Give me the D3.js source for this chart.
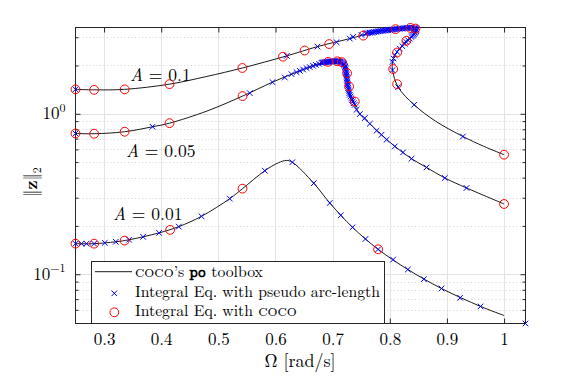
<!DOCTYPE html>
<html><head><meta charset="utf-8">
<script src="https://cdn.jsdelivr.net/npm/d3@7"></script>
<style>
body{margin:0;background:#fff}
svg{display:block}
</style>
</head><body>
<svg id="c" width="581" height="376"></svg>
<script>
// ---------- axis limits & ticks ----------
const xLimits = [0.25, 1.0375];
const yLimits = [0.0493, 3.45];
const xTicks = [0.3, 0.4, 0.5, 0.6, 0.7, 0.8, 0.9, 1.0];
const xTickLabels = ["0.3", "0.4", "0.5", "0.6", "0.7", "0.8", "0.9", "1"];
const yMajorTicks = [0.1, 1];
const yTickExponents = ["\u22121", "0"];
const yMinorTicks = [0.06, 0.07, 0.08, 0.09, 0.2, 0.3, 0.4, 0.5, 0.6, 0.7, 0.8, 0.9, 2, 3];

// ---------- coco's po toolbox (solid lines) ----------
const lineOmegaA01 = [0.25,0.2826,0.336,0.4145,0.48,0.542,0.6198,0.6735,0.730,0.7738,0.8106,0.8368,0.8447,0.8465,0.8412,0.829,0.8175,0.8088,0.8048,0.8048,0.8146,0.8426,0.88,0.928,0.964,1.0];
const lineAmpA01   = [1.42,1.41,1.42,1.53,1.71,1.93,2.296,2.623,2.942,3.24,3.37,3.43,3.41,3.30,3.10,2.86,2.55,2.32,2.10,1.87,1.466,1.138,0.90,0.722,0.628,0.556];

const lineOmegaA005 = [0.25,0.2826,0.336,0.3848,0.4145,0.48,0.5423,0.5948,0.6368,0.6705,0.6915,0.7055,0.7125,0.7187,0.7218,0.7236,0.7255,0.7287,0.7353,0.7476,0.7651,0.7855,0.8088,0.838,0.8643,0.8963,0.9343,1.0];
const lineAmpA005   = [0.754,0.751,0.773,0.83,0.874,1.04,1.289,1.575,1.817,2.018,2.107,2.124,2.114,2.062,1.961,1.813,1.593,1.380,1.193,0.996,0.867,0.740,0.626,0.525,0.463,0.398,0.345,0.274];

const lineOmegaA001 = [0.25,0.2826,0.3205,0.3438,0.3963,0.4308,0.4705,0.52,0.5423,0.5813,0.605,0.619,0.6294,0.667,0.695,0.7348,0.7796,0.8316,0.8905,0.9588,1.0];
const lineAmpA001   = [0.155,0.155,0.1593,0.164,0.181,0.198,0.2296,0.296,0.3415,0.4418,0.495,0.512,0.499,0.369,0.278,0.196,0.143,0.107,0.0815,0.063,0.0553];

// ---------- Integral Eq. with pseudo arc-length (blue crosses) ----------
const crossOmegaA01 = [0.25,0.6198,0.6735,0.7068,0.730,0.7358,0.7505,
  0.758,0.760,0.7625,0.765,0.7675,0.770,0.7725,0.775,0.7775,0.780,0.7825,0.785,0.7875,0.790,0.7925,0.795,0.7975,0.800,
  0.8025,0.805,0.8075,0.810,0.8125,0.815,0.8175,0.820,0.8225,0.825,0.8275,0.830,0.8325,0.835,0.8375,0.840,0.842,0.844,
  0.8455,0.8463,0.8466,0.8462,0.845,0.8438,0.8425,0.8412,0.8396,0.838,0.835,0.832,0.829,0.8263,0.822,0.8175,0.813,0.8088,
  0.8065,0.8048,0.8048,0.8146,0.8426,0.928];
const crossAmpA01   = [1.42,2.296,2.623,2.794,2.942,3.015,3.10,
  3.17,3.18,3.19,3.20,3.21,3.22,3.23,3.245,3.255,3.265,3.275,3.285,3.29,3.30,3.31,3.32,3.325,3.33,
  3.34,3.35,3.36,3.37,3.375,3.385,3.39,3.40,3.405,3.415,3.42,3.425,3.43,3.435,3.435,3.435,3.43,3.42,
  3.40,3.37,3.33,3.28,3.23,3.19,3.145,3.10,3.055,3.01,2.94,2.87,2.80,2.74,2.64,2.55,2.43,2.32,
  2.21,2.105,1.872,1.466,1.138,0.722];

const crossOmegaA005 = [0.25,0.3848,0.555,0.5948,0.6163,0.628,0.6368,0.6426,0.6483,0.6543,0.66,0.6658,0.6705,0.6763,
  0.6805,0.682,0.6835,0.685,0.6865,0.688,0.6895,0.691,0.6925,0.694,0.6955,0.697,0.6985,0.700,0.7015,0.703,0.7045,0.706,
  0.7075,0.709,0.7105,0.712,0.7135,0.715,0.7163,0.7175,0.7187,0.7197,0.7204,0.7212,0.7218,0.7223,0.7227,0.7232,0.7236,
  0.724,0.7243,0.7246,0.7248,0.7252,0.7255,0.7258,0.7262,0.7266,0.7271,0.7279,0.7287,0.7293,0.730,0.7313,0.7327,0.734,
  0.7353,0.737,0.7388,0.7418,0.7476,0.7563,0.7651,0.7768,0.7855,0.7943,0.8088,0.8233,0.838,0.8643,0.8963,0.9343];
const crossAmpA005   = [0.754,0.830,1.345,1.575,1.683,1.766,1.817,1.853,1.888,1.926,1.954,1.990,2.018,2.047,
  2.077,2.083,2.088,2.093,2.097,2.101,2.104,2.107,2.110,2.112,2.115,2.117,2.120,2.122,2.123,2.124,2.125,2.125,
  2.125,2.124,2.122,2.117,2.11,2.10,2.09,2.075,2.06,2.04,2.02,1.99,1.96,1.93,1.89,1.85,1.81,
  1.77,1.737,1.70,1.663,1.63,1.593,1.56,1.526,1.49,1.451,1.415,1.38,1.345,1.313,1.28,1.249,1.22,
  1.193,1.165,1.138,1.059,0.996,0.940,0.867,0.784,0.740,0.689,0.626,0.575,0.525,0.463,0.398,0.345];

const crossOmegaA001 = [0.25,0.2605,0.2693,0.2826,0.3013,0.3205,0.3438,0.3683,0.3963,0.4308,0.4705,0.52,0.5813,0.6294,0.667,0.695,0.7143,0.7348,0.7575,0.7796,0.8058,0.8316,0.8596,0.8905,0.9231,0.9588,1.0375];
const crossAmpA001   = [0.155,0.155,0.155,0.155,0.1568,0.1593,0.164,0.171,0.181,0.198,0.2296,0.296,0.4418,0.499,0.369,0.278,0.233,0.196,0.166,0.143,0.1234,0.107,0.0931,0.0815,0.0713,0.063,0.0493];

// ---------- Integral Eq. with coco (red circles) ----------
const circleOmegaA01 = [0.25,0.2826,0.336,0.4145,0.542,0.613,0.651,0.694,0.7536,0.81,0.836,0.845,0.829,0.8128,0.806,0.8128,1.0];
const circleAmpA01   = [1.42,1.41,1.42,1.53,1.93,2.27,2.48,2.72,3.07,3.37,3.43,3.40,2.85,2.41,1.90,1.53,0.556];

const circleOmegaA005 = [0.25,0.2826,0.336,0.4145,0.5423,0.692,0.708,0.716,0.7253,0.7288,0.7388,1.0];
const circleAmpA005   = [0.754,0.751,0.773,0.874,1.289,2.107,2.124,2.099,1.791,1.479,1.193,0.274];

const circleOmegaA001 = [0.25,0.2826,0.336,0.4156,0.5423,0.7796];
const circleAmpA001   = [0.155,0.155,0.162,0.189,0.3415,0.143];

const curveLabels = ["0.1", "0.05", "0.01"];
const legendLabels = ["Integral Eq. with pseudo arc-length", "Integral Eq. with "];

// ---------- fonts ----------
const ctx = document.createElement("canvas").getContext("2d");
function hasFont(name) {
  const s = "coco po Integral 0123";
  return ["monospace", "serif"].some(fb => {
    ctx.font = `20px ${fb}`; const a = ctx.measureText(s).width;
    ctx.font = `20px "${name}", ${fb}`; const b = ctx.measureText(s).width;
    return Math.abs(a - b) > 0.5;
  });
}
const SERIF = '"Latin Modern Roman","CMU Serif","Liberation Serif",serif';
const MONO = hasFont("Latin Modern Mono") ? '"Latin Modern Mono","Liberation Mono",monospace' : '"Liberation Mono","DejaVu Sans Mono",monospace';
const hasCaps = hasFont("Latin Modern Roman Caps");

// ---------- drawing ----------
const svg = d3.select("#c");
const L = 75.5, R = 525.5, T = 27.5, B = 323.5;
const x = d3.scaleLinear().domain(xLimits).range([L, R]);
const y = d3.scaleLog().domain(yLimits).range([B, T]);
const zip = (a, b) => a.map((v, i) => [v, b[i]]);

// grid
const g = svg.append("g");
g.selectAll(".gx").data(xTicks).join("line")
  .attr("x1", d => Math.round(x(d)) + 0.5).attr("x2", d => Math.round(x(d)) + 0.5)
  .attr("y1", T).attr("y2", B).attr("stroke", "#e3e3e3").attr("stroke-width", 1);
g.selectAll(".gym").data(yMinorTicks).join("line")
  .attr("x1", L).attr("x2", R)
  .attr("y1", d => Math.round(y(d)) + 0.5).attr("y2", d => Math.round(y(d)) + 0.5)
  .attr("stroke", "#d4d4d4").attr("stroke-width", 1).attr("stroke-dasharray", "1,2.5");
g.selectAll(".gy").data(yMajorTicks).join("line")
  .attr("x1", L).attr("x2", R)
  .attr("y1", d => Math.round(y(d)) + 0.5).attr("y2", d => Math.round(y(d)) + 0.5)
  .attr("stroke", "#e3e3e3").attr("stroke-width", 1);

// axes (ticks inward, MATLAB style)
const axCol = "#262626";
const xb = svg.append("g").attr("transform", `translate(0,${B})`)
  .call(d3.axisBottom(x).tickValues(xTicks).tickFormat((d, i) => xTickLabels[i]).tickSizeInner(-5).tickSizeOuter(0).tickPadding(9));
const xt = svg.append("g").attr("transform", `translate(0,${T})`)
  .call(d3.axisTop(x).tickValues(xTicks).tickFormat("").tickSizeInner(-5).tickSizeOuter(0));
const yl = svg.append("g").attr("transform", `translate(${L},0)`)
  .call(d3.axisLeft(y).tickValues(yMajorTicks).tickFormat("").tickSizeInner(-5).tickSizeOuter(0));
const ylm = svg.append("g").attr("transform", `translate(${L},0)`)
  .call(d3.axisLeft(y).tickValues(yMinorTicks).tickFormat("").tickSizeInner(-3).tickSizeOuter(0));
const yr = svg.append("g").attr("transform", `translate(${R},0)`)
  .call(d3.axisRight(y).tickValues(yMajorTicks).tickFormat("").tickSizeInner(-5).tickSizeOuter(0));
const yrm = svg.append("g").attr("transform", `translate(${R},0)`)
  .call(d3.axisRight(y).tickValues(yMinorTicks).tickFormat("").tickSizeInner(-3).tickSizeOuter(0));
[xb, xt, yl, ylm, yr, yrm].forEach(a => {
  a.select(".domain").remove();
  a.attr("font-family", null).attr("font-size", null);
  a.selectAll("line").attr("stroke", axCol);
});
xb.selectAll("text").style("font-family", SERIF).style("font-size", "17px").attr("fill", "#000");

// y tick labels 10^k
yMajorTicks.forEach((v, i) => {
  const t = svg.append("text").attr("x", 65.5).attr("y", y(v) + 5.5)
    .attr("text-anchor", "end").style("font-size", "17px").style("font-family", SERIF);
  t.append("tspan").text("10");
  t.append("tspan").attr("dy", -7.5).style("font-size", "12px").text(yTickExponents[i]);
});

// box
svg.append("rect").attr("x", L).attr("y", T).attr("width", R - L).attr("height", B - T)
  .attr("fill", "none").attr("stroke", axCol).attr("stroke-width", 1);

// lines
const lineGen = d3.line().x(d => x(d[0])).y(d => y(d[1])).curve(d3.curveCatmullRom.alpha(0.5));
[[lineOmegaA01, lineAmpA01], [lineOmegaA005, lineAmpA005], [lineOmegaA001, lineAmpA001]].forEach(([o, a]) => {
  svg.append("path").attr("d", lineGen(zip(o, a))).attr("fill", "none")
    .attr("stroke", "#000").attr("stroke-width", 0.9);
});

// crosses
const cs = 2.8;
const crossPath = (px, py) => `M${px - cs},${py - cs}L${px + cs},${py + cs}M${px - cs},${py + cs}L${px + cs},${py - cs}`;
[[crossOmegaA01, crossAmpA01], [crossOmegaA005, crossAmpA005], [crossOmegaA001, crossAmpA001]].forEach(([o, a]) => {
  svg.append("g").selectAll("path").data(zip(o, a)).join("path")
    .attr("d", d => crossPath(x(d[0]), y(d[1])))
    .attr("stroke", "#0000ff").attr("stroke-width", 1).attr("fill", "none");
});

// circles
[[circleOmegaA01, circleAmpA01], [circleOmegaA005, circleAmpA005], [circleOmegaA001, circleAmpA001]].forEach(([o, a]) => {
  svg.append("g").selectAll("circle").data(zip(o, a)).join("circle")
    .attr("cx", d => x(d[0])).attr("cy", d => y(d[1])).attr("r", 4.4)
    .attr("fill", "none").attr("stroke", "#ff0000").attr("stroke-width", 1);
});

// curve labels
const labelPos = [[130, 81], [126, 157], [113, 219.5]];
curveLabels.forEach((s, i) => {
  const t = svg.append("text").attr("x", labelPos[i][0]).attr("y", labelPos[i][1])
    .style("font-size", "17.5px").style("font-family", SERIF);
  t.append("tspan").style("font-style", "italic").text("A");
  t.append("tspan").text(" = " + s);
});

// axis labels
const xl = svg.append("text").attr("x", 300).attr("y", 367).attr("text-anchor", "middle")
  .style("font-size", "18px").style("font-family", SERIF);
xl.append("tspan").text("\u03A9 [rad/s]");
const ylab = svg.append("text").attr("transform", "translate(37,182) rotate(-90)")
  .attr("text-anchor", "middle").style("font-size", "18px").style("font-family", SERIF);
ylab.append("tspan").text("\u2016");
ylab.append("tspan").style("font-weight", "bold").text("z");
ylab.append("tspan").text("\u2016");
ylab.append("tspan").attr("dy", 4).style("font-size", "12px").text("2");

// legend
const lg = svg.append("g");
lg.append("rect").attr("x", 91.5).attr("y", 261.5).attr("width", 293).attr("height", 62)
  .attr("fill", "#fff").attr("stroke", axCol).attr("stroke-width", 1);
lg.append("line").attr("x1", 95).attr("x2", 132).attr("y1", 271.7).attr("y2", 271.7)
  .attr("stroke", "#000").attr("stroke-width", 0.9);
lg.append("path").attr("d", crossPath(114.3, 293.3)).attr("stroke", "#0000ff").attr("stroke-width", 1);
lg.append("circle").attr("cx", 114.3).attr("cy", 312.3).attr("r", 4.4).attr("fill", "none")
  .attr("stroke", "#ff0000").attr("stroke-width", 1);

const t2 = lg.append("text").attr("x", 135).attr("y", 297).style("font-size", "15px").style("font-family", SERIF).text(legendLabels[0]);
let fs = 15;
const w = t2.node().getComputedTextLength();
if (w > 0) fs = Math.max(12, Math.min(18, 15 * 245 / w));
t2.style("font-size", fs + "px");

function cocoSpan(sel) {
  const sp = sel.append("tspan").text("coco");
  if (hasCaps) sp.style("font-family", '"Latin Modern Roman Caps"');
  else sp.style("font-variant", "small-caps").style("letter-spacing", "0.6px");
  return sp;
}
const t1 = lg.append("text").attr("x", 135).attr("y", 276.7).style("font-size", fs + "px").style("font-family", SERIF);
cocoSpan(t1);
t1.append("tspan").text("\u2019s ");
t1.append("tspan").style("font-family", MONO).style("font-weight", "bold").text("po");
t1.append("tspan").text(" toolbox");
const t3 = lg.append("text").attr("x", 135).attr("y", 316).style("font-size", fs + "px").style("font-family", SERIF);
t3.append("tspan").text(legendLabels[1]);
cocoSpan(t3);
</script>
</body></html>
